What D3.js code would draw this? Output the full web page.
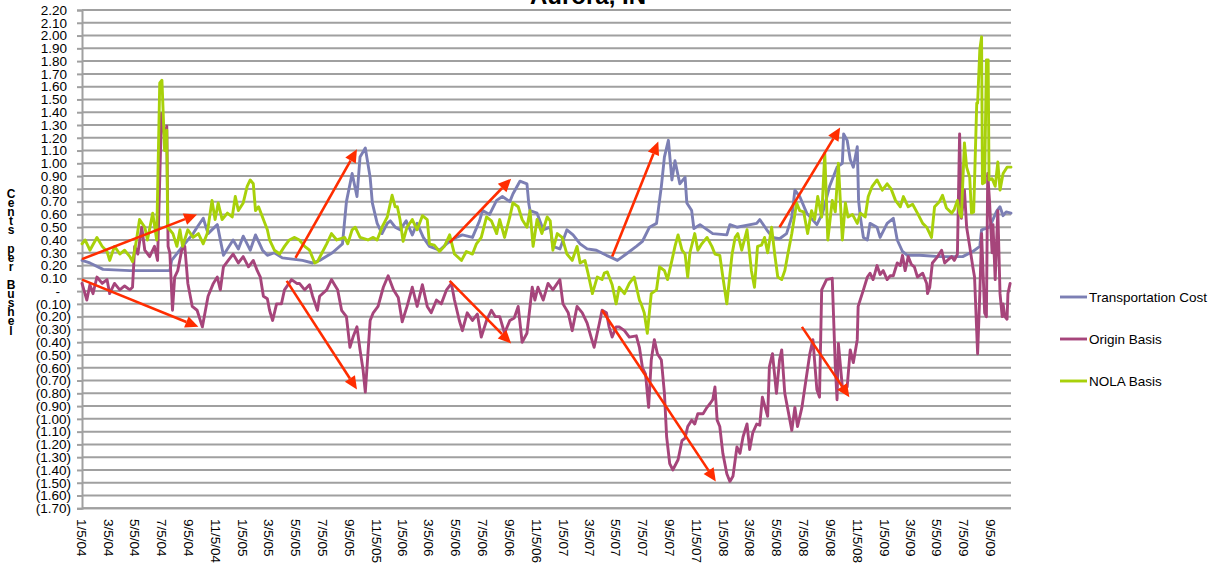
<!DOCTYPE html>
<html><head><meta charset="utf-8">
<script src="https://cdn.jsdelivr.net/npm/d3@7"></script>
<style>
body{margin:0;background:#fff}
svg{display:block}
text{font-family:"Liberation Sans",Arial,sans-serif;fill:#000}
</style>
</head><body>
<svg id="chart" width="1219" height="567"></svg>
<script>
const chartTitle = "Aurora, IN";
const yAxisTitle = "Cents per Bushel";
const seriesNames = ["Transportation Cost", "Origin Basis", "NOLA Basis"];
const seriesColors = ["#7c7fb4", "#a6457b", "#a8d10a"];
const arrowColor = "#ff2d00";

const xTickLabels = ["1/5/04","3/5/04","5/5/04","7/5/04","9/5/04","11/5/04",
  "1/5/05","3/5/05","5/5/05","7/5/05","9/5/05","11/5/05",
  "1/5/06","3/5/06","5/5/06","7/5/06","9/5/06","11/5/06",
  "1/5/07","3/5/07","5/5/07","7/5/07","9/5/07","11/5/07",
  "1/5/08","3/5/08","5/5/08","7/5/08","9/5/08","11/5/08",
  "1/5/09","3/5/09","5/5/09","7/5/09","9/5/09"];
const xDomain = ["2004-01-05", "2009-10-20"];
const yTickValues = [2.2,2.1,2.0,1.9,1.8,1.7,1.6,1.5,1.4,1.3,1.2,1.1,1.0,0.9,0.8,0.7,0.6,0.5,0.4,0.3,0.2,0.1,0,
  -0.1,-0.2,-0.3,-0.4,-0.5,-0.6,-0.7,-0.8,-0.9,-1.0,-1.1,-1.2,-1.3,-1.4,-1.5,-1.6,-1.7];

const transportationCost = [["2004-01-05",0.24],["2004-01-23",0.22],["2004-02-22",0.17],["2004-04-23",0.16],["2004-07-23",0.16],["2004-07-27",0.24],["2004-08-21",0.35],["2004-09-14",0.45],["2004-09-23",0.50],["2004-10-07",0.57],["2004-10-18",0.45],["2004-11-08",0.52],["2004-11-22",0.28],["2004-12-14",0.40],["2004-12-26",0.33],["2005-01-06",0.43],["2005-01-22",0.32],["2005-02-03",0.44],["2005-02-19",0.32],["2005-03-02",0.28],["2005-03-18",0.30],["2005-04-05",0.26],["2005-05-21",0.24],["2005-06-13",0.22],["2005-06-29",0.24],["2005-07-28",0.30],["2005-08-20",0.37],["2005-08-29",0.70],["2005-09-11",0.92],["2005-09-22",0.74],["2005-09-29",1.05],["2005-10-11",1.12],["2005-10-22",0.89],["2005-10-27",0.69],["2005-11-07",0.53],["2005-11-18",0.45],["2005-11-30",0.53],["2005-12-07",0.55],["2005-12-18",0.50],["2005-12-29",0.48],["2006-01-12",0.55],["2006-01-26",0.44],["2006-02-06",0.53],["2006-02-20",0.42],["2006-03-06",0.35],["2006-03-29",0.32],["2006-04-14",0.37],["2006-05-06",0.42],["2006-05-20",0.44],["2006-06-12",0.42],["2006-06-28",0.55],["2006-07-05",0.63],["2006-07-21",0.60],["2006-08-06",0.71],["2006-08-19",0.74],["2006-09-05",0.70],["2006-09-12",0.76],["2006-09-28",0.86],["2006-10-14",0.84],["2006-10-18",0.69],["2006-10-21",0.63],["2006-11-06",0.61],["2006-11-20",0.48],["2006-12-06",0.50],["2006-12-12",0.35],["2006-12-28",0.33],["2007-01-13",0.48],["2007-01-27",0.44],["2007-02-12",0.37],["2007-02-28",0.33],["2007-03-21",0.32],["2007-04-13",0.28],["2007-04-26",0.26],["2007-05-08",0.24],["2007-05-28",0.29],["2007-06-20",0.35],["2007-07-04",0.39],["2007-07-20",0.50],["2007-08-05",0.53],["2007-08-16",0.82],["2007-08-23",1.05],["2007-09-01",1.18],["2007-09-09",0.87],["2007-09-16",1.02],["2007-09-27",0.84],["2007-10-09",0.89],["2007-10-13",0.69],["2007-10-24",0.63],["2007-10-29",0.49],["2007-11-12",0.52],["2007-12-11",0.45],["2008-01-12",0.44],["2008-01-19",0.52],["2008-02-04",0.50],["2008-03-20",0.53],["2008-03-27",0.56],["2008-04-12",0.48],["2008-04-25",0.42],["2008-05-11",0.41],["2008-05-27",0.45],["2008-06-08",0.58],["2008-06-15",0.79],["2008-06-26",0.74],["2008-07-12",0.61],["2008-08-04",0.52],["2008-08-17",0.61],["2008-09-02",0.82],["2008-09-19",0.97],["2008-10-01",1.00],["2008-10-04",1.23],["2008-10-12",1.18],["2008-10-19",1.03],["2008-10-26",0.97],["2008-11-04",1.13],["2008-11-07",0.71],["2008-11-11",0.58],["2008-11-18",0.42],["2008-11-27",0.40],["2008-12-03",0.53],["2008-12-19",0.50],["2008-12-26",0.42],["2009-01-11",0.53],["2009-01-25",0.57],["2009-02-03",0.40],["2009-02-15",0.31],["2009-02-26",0.28],["2009-03-26",0.28],["2009-05-10",0.27],["2009-07-02",0.27],["2009-07-25",0.31],["2009-08-10",0.35],["2009-08-14",0.48],["2009-09-01",0.50],["2009-09-18",0.63],["2009-09-25",0.66],["2009-10-02",0.59],["2009-10-09",0.62],["2009-10-20",0.61]];

const originBasis = [["2004-01-05",0.06],["2004-01-16",-0.07],["2004-01-23",0.05],["2004-01-30",-0.02],["2004-02-08",0.11],["2004-02-20",0.06],["2004-03-02",0.09],["2004-03-08",-0.02],["2004-03-19",0.06],["2004-03-31",0.01],["2004-04-11",0.04],["2004-04-23",0.01],["2004-04-29",0.03],["2004-05-04",0.35],["2004-05-11",0.29],["2004-05-20",0.50],["2004-05-27",0.32],["2004-06-07",0.27],["2004-06-18",0.35],["2004-06-25",0.24],["2004-07-04",1.39],["2004-07-11",1.21],["2004-07-16",1.29],["2004-07-19",0.35],["2004-07-23",0.30],["2004-07-29",-0.15],["2004-08-03",0.11],["2004-08-10",0.16],["2004-08-19",0.32],["2004-08-26",0.35],["2004-09-02",0.06],["2004-09-12",-0.12],["2004-09-23",-0.15],["2004-10-05",-0.28],["2004-10-11",-0.17],["2004-10-18",-0.04],["2004-10-30",0.06],["2004-11-08",0.11],["2004-11-15",0.01],["2004-11-22",0.19],["2004-12-03",0.24],["2004-12-14",0.29],["2004-12-26",0.22],["2005-01-06",0.27],["2005-01-18",0.19],["2005-01-29",0.24],["2005-02-07",0.16],["2005-02-14",0.11],["2005-02-21",-0.04],["2005-03-02",-0.06],["2005-03-07",-0.15],["2005-03-14",-0.23],["2005-03-23",-0.10],["2005-04-03",-0.10],["2005-04-10",0.01],["2005-04-26",0.09],["2005-05-08",0.06],["2005-05-14",0.06],["2005-05-26",0.01],["2005-06-06",0.05],["2005-06-13",-0.04],["2005-06-24",-0.15],["2005-06-29",-0.04],["2005-07-15",0.01],["2005-07-26",0.09],["2005-08-02",0.05],["2005-08-09",0.01],["2005-08-18",-0.15],["2005-08-29",-0.20],["2005-09-06",-0.44],["2005-09-13",-0.36],["2005-09-22",-0.28],["2005-09-29",-0.46],["2005-10-06",-0.62],["2005-10-11",-0.79],["2005-10-15",-0.59],["2005-10-22",-0.23],["2005-10-29",-0.17],["2005-11-09",-0.12],["2005-11-21",0.03],["2005-12-02",0.12],["2005-12-14",0.01],["2005-12-25",-0.05],["2006-01-03",-0.24],["2006-01-14",-0.12],["2006-01-26",0.03],["2006-02-06",-0.12],["2006-02-18",0.05],["2006-03-01",-0.12],["2006-03-10",-0.17],["2006-03-22",-0.07],["2006-04-02",-0.10],["2006-04-14",0.01],["2006-04-25",0.06],["2006-05-02",-0.07],["2006-05-13",-0.23],["2006-05-20",-0.31],["2006-05-31",-0.17],["2006-06-12",-0.23],["2006-06-23",-0.18],["2006-07-02",-0.36],["2006-07-14",-0.23],["2006-07-25",-0.15],["2006-08-03",-0.20],["2006-08-13",-0.20],["2006-08-24",-0.33],["2006-09-05",-0.23],["2006-09-15",-0.21],["2006-09-24",-0.12],["2006-10-03",-0.40],["2006-10-14",-0.33],["2006-10-26",0.03],["2006-11-01",-0.07],["2006-11-08",0.03],["2006-11-20",-0.07],["2006-12-01",0.06],["2006-12-12",0.01],["2006-12-22",0.06],["2006-12-28",0.09],["2007-01-04",-0.10],["2007-01-16",-0.17],["2007-01-25",-0.31],["2007-02-05",-0.12],["2007-02-17",-0.17],["2007-02-28",-0.25],["2007-03-09",-0.36],["2007-03-16",-0.44],["2007-03-28",-0.25],["2007-04-03",-0.15],["2007-04-13",-0.17],["2007-04-19",-0.28],["2007-04-26",-0.36],["2007-05-05",-0.28],["2007-05-12",-0.28],["2007-05-24",-0.31],["2007-06-04",-0.36],["2007-06-20",-0.35],["2007-06-27",-0.44],["2007-07-04",-0.60],["2007-07-11",-0.65],["2007-07-18",-0.91],["2007-07-24",-0.54],["2007-07-31",-0.38],["2007-08-07",-0.49],["2007-08-16",-0.54],["2007-08-23",-0.80],["2007-08-28",-1.14],["2007-09-04",-1.35],["2007-09-11",-1.40],["2007-09-23",-1.32],["2007-10-02",-1.17],["2007-10-09",-1.15],["2007-10-15",-1.06],["2007-10-24",-1.01],["2007-10-31",-1.04],["2007-11-07",-0.96],["2007-11-19",-0.96],["2007-11-28",-0.91],["2007-12-05",-0.88],["2007-12-11",-0.85],["2007-12-16",-0.75],["2007-12-21",-1.01],["2007-12-27",-1.06],["2008-01-03",-1.27],["2008-01-12",-1.43],["2008-01-19",-1.49],["2008-01-26",-1.45],["2008-02-04",-1.22],["2008-02-11",-1.27],["2008-02-18",-1.14],["2008-02-27",-1.04],["2008-03-04",-1.24],["2008-03-11",-1.11],["2008-03-20",-1.04],["2008-03-27",-1.05],["2008-04-02",-0.83],["2008-04-14",-0.98],["2008-04-18",-0.59],["2008-04-25",-0.49],["2008-05-04",-0.80],["2008-05-11",-0.54],["2008-05-16",-0.46],["2008-05-23",-0.80],["2008-06-08",-1.09],["2008-06-15",-0.91],["2008-06-21",-1.06],["2008-07-01",-0.91],["2008-07-07",-0.77],["2008-07-19",-0.49],["2008-07-26",-0.38],["2008-08-04",-0.77],["2008-08-10",-0.83],["2008-08-15",0.01],["2008-08-26",0.09],["2008-09-08",0.10],["2008-09-15",-0.59],["2008-09-19",-0.85],["2008-09-22",-0.41],["2008-10-01",-0.75],["2008-10-12",-0.75],["2008-10-19",-0.46],["2008-10-26",-0.56],["2008-11-04",-0.38],["2008-11-06",-0.12],["2008-11-18",0.01],["2008-11-27",0.11],["2008-12-03",0.14],["2008-12-10",0.09],["2008-12-19",0.20],["2008-12-26",0.13],["2009-01-02",0.16],["2009-01-11",0.09],["2009-01-18",0.12],["2009-01-25",0.12],["2009-02-03",0.22],["2009-02-10",0.20],["2009-02-15",0.28],["2009-02-21",0.16],["2009-02-28",0.27],["2009-03-07",0.21],["2009-03-14",0.19],["2009-03-21",0.11],["2009-04-02",0.14],["2009-04-11",0.06],["2009-04-13",-0.02],["2009-04-18",0.03],["2009-04-24",0.22],["2009-05-06",0.27],["2009-05-15",0.32],["2009-05-22",0.22],["2009-05-28",0.24],["2009-06-07",0.27],["2009-06-13",0.24],["2009-06-20",0.29],["2009-06-25",1.23],["2009-06-29",0.57],["2009-07-06",0.79],["2009-07-11",0.50],["2009-07-18",0.35],["2009-07-25",0.19],["2009-07-29",0.11],["2009-08-05",-0.49],["2009-08-10",-0.02],["2009-08-14",0.45],["2009-08-21",-0.17],["2009-08-25",-0.20],["2009-08-28",0.92],["2009-09-01",0.71],["2009-09-07",0.30],["2009-09-09",0.52],["2009-09-14",0.09],["2009-09-20",0.63],["2009-09-25",-0.02],["2009-09-30",-0.20],["2009-10-02",-0.10],["2009-10-06",-0.20],["2009-10-11",-0.22],["2009-10-13",-0.02],["2009-10-18",0.06]];

const nolaBasis = [["2004-01-05",0.37],["2004-01-12",0.40],["2004-01-23",0.32],["2004-02-08",0.42],["2004-02-20",0.35],["2004-03-02",0.31],["2004-03-08",0.24],["2004-03-19",0.35],["2004-03-31",0.29],["2004-04-11",0.32],["2004-04-23",0.27],["2004-04-29",0.23],["2004-05-08",0.40],["2004-05-15",0.56],["2004-05-27",0.50],["2004-06-02",0.40],["2004-06-14",0.61],["2004-06-23",0.40],["2004-06-30",1.63],["2004-07-05",1.65],["2004-07-07",1.47],["2004-07-11",1.10],["2004-07-16",1.26],["2004-07-18",0.50],["2004-07-30",0.45],["2004-08-08",0.35],["2004-08-15",0.48],["2004-08-21",0.35],["2004-09-02",0.48],["2004-09-14",0.42],["2004-09-26",0.45],["2004-10-07",0.37],["2004-10-16",0.45],["2004-10-27",0.71],["2004-11-03",0.56],["2004-11-10",0.69],["2004-11-19",0.56],["2004-12-01",0.61],["2004-12-12",0.58],["2004-12-19",0.74],["2004-12-26",0.63],["2005-01-06",0.69],["2005-01-15",0.82],["2005-01-22",0.87],["2005-01-29",0.84],["2005-02-03",0.63],["2005-02-10",0.66],["2005-02-21",0.56],["2005-03-02",0.48],["2005-03-07",0.40],["2005-03-18",0.32],["2005-03-30",0.29],["2005-04-10",0.35],["2005-04-21",0.40],["2005-05-03",0.42],["2005-05-14",0.40],["2005-05-26",0.35],["2005-06-06",0.32],["2005-06-18",0.22],["2005-06-24",0.23],["2005-07-03",0.29],["2005-07-15",0.37],["2005-07-26",0.45],["2005-08-07",0.40],["2005-08-25",0.42],["2005-09-01",0.37],["2005-09-11",0.48],["2005-09-18",0.50],["2005-09-29",0.42],["2005-10-17",0.40],["2005-10-29",0.42],["2005-11-07",0.40],["2005-11-18",0.50],["2005-11-30",0.58],["2005-12-11",0.75],["2005-12-18",0.66],["2005-12-23",0.66],["2005-12-29",0.56],["2006-01-05",0.39],["2006-01-14",0.50],["2006-01-26",0.56],["2006-02-06",0.48],["2006-02-18",0.59],["2006-03-01",0.56],["2006-03-06",0.37],["2006-03-17",0.36],["2006-03-29",0.31],["2006-04-09",0.35],["2006-04-21",0.44],["2006-05-02",0.29],["2006-05-18",0.24],["2006-05-29",0.31],["2006-06-12",0.29],["2006-06-21",0.37],["2006-07-02",0.42],["2006-07-14",0.58],["2006-07-25",0.55],["2006-08-06",0.45],["2006-08-13",0.56],["2006-08-24",0.42],["2006-09-05",0.58],["2006-09-12",0.69],["2006-09-24",0.66],["2006-10-03",0.56],["2006-10-14",0.50],["2006-10-21",0.63],["2006-10-28",0.35],["2006-11-06",0.56],["2006-11-17",0.45],["2006-11-29",0.58],["2006-12-06",0.55],["2006-12-12",0.32],["2006-12-22",0.45],["2007-01-02",0.42],["2007-01-13",0.29],["2007-01-25",0.24],["2007-02-05",0.35],["2007-02-12",0.22],["2007-02-23",0.24],["2007-03-02",0.14],["2007-03-12",-0.02],["2007-03-23",0.11],["2007-04-03",0.09],["2007-04-08",0.14],["2007-04-15",0.15],["2007-04-26",0.05],["2007-05-05",-0.10],["2007-05-12",0.03],["2007-05-24",-0.02],["2007-06-04",0.06],["2007-06-15",0.11],["2007-06-27",-0.07],["2007-07-01",-0.10],["2007-07-08",-0.17],["2007-07-15",-0.33],["2007-07-24",-0.02],["2007-08-05",0.01],["2007-08-12",0.19],["2007-08-23",0.16],["2007-08-30",0.09],["2007-09-09",0.24],["2007-09-16",0.35],["2007-09-23",0.44],["2007-10-02",0.32],["2007-10-09",0.29],["2007-10-15",0.11],["2007-10-20",0.30],["2007-10-31",0.45],["2007-11-07",0.32],["2007-11-16",0.37],["2007-11-28",0.42],["2007-12-09",0.35],["2007-12-16",0.29],["2007-12-27",0.28],["2008-01-03",0.11],["2008-01-12",-0.10],["2008-01-24",0.29],["2008-01-31",0.42],["2008-02-06",0.45],["2008-02-15",0.32],["2008-02-27",0.48],["2008-03-08",0.16],["2008-03-15",0.03],["2008-03-22",0.35],["2008-03-31",0.36],["2008-04-07",0.42],["2008-04-14",0.30],["2008-04-23",0.50],["2008-04-30",0.29],["2008-05-07",0.11],["2008-05-16",0.09],["2008-05-23",0.16],["2008-05-30",0.29],["2008-06-08",0.45],["2008-06-19",0.69],["2008-06-26",0.63],["2008-07-05",0.62],["2008-07-14",0.45],["2008-07-23",0.63],["2008-07-30",0.56],["2008-08-06",0.74],["2008-08-15",0.58],["2008-08-22",1.08],["2008-08-29",0.40],["2008-09-08",0.71],["2008-09-15",0.62],["2008-09-22",1.00],["2008-10-01",0.40],["2008-10-08",0.69],["2008-10-14",0.58],["2008-10-24",0.60],["2008-11-04",0.53],["2008-11-11",0.61],["2008-11-22",0.58],["2008-11-29",0.74],["2008-12-08",0.82],["2008-12-19",0.87],["2008-12-31",0.79],["2009-01-11",0.84],["2009-01-20",0.80],["2009-01-30",0.71],["2009-02-10",0.66],["2009-02-17",0.74],["2009-02-28",0.66],["2009-03-10",0.68],["2009-03-21",0.61],["2009-04-02",0.53],["2009-04-11",0.50],["2009-04-18",0.45],["2009-04-22",0.42],["2009-04-29",0.66],["2009-05-10",0.70],["2009-05-17",0.75],["2009-05-26",0.65],["2009-06-07",0.61],["2009-06-13",0.64],["2009-06-20",0.71],["2009-06-25",0.61],["2009-06-29",0.58],["2009-07-06",1.16],["2009-07-11",0.97],["2009-07-18",0.89],["2009-07-22",0.61],["2009-07-27",0.62],["2009-08-03",1.47],["2009-08-05",1.47],["2009-08-10",1.89],["2009-08-14",1.99],["2009-08-16",0.84],["2009-08-21",0.85],["2009-08-25",1.81],["2009-08-29",1.81],["2009-08-31",0.87],["2009-09-07",0.88],["2009-09-14",0.82],["2009-09-20",1.01],["2009-09-25",0.79],["2009-10-02",0.92],["2009-10-11",0.97],["2009-10-20",0.97]];

// trend annotation arrows: [startDate, startValue, endDate, endValue]
const trendArrows = [
  ["2004-01-05",0.25,"2004-09-23",0.60],
  ["2004-01-05",0.09,"2004-09-26",-0.28],
  ["2005-05-05",0.26,"2005-09-22",1.11],
  ["2005-04-15",0.08,"2005-09-22",-0.77],
  ["2006-04-21",0.38,"2006-09-08",0.88],
  ["2006-04-21",0.08,"2006-09-08",-0.41],
  ["2007-04-26",0.27,"2007-08-09",1.17],
  ["2007-04-03",-0.15,"2007-12-18",-1.49],
  ["2008-05-11",0.50,"2008-09-26",1.28],
  ["2008-07-01",-0.28,"2008-10-17",-0.83]
];

const parseISO = d3.timeParse("%Y-%m-%d");
const parseLabel = d3.timeParse("%m/%d/%y");
const svg = d3.select("#chart");

const x = d3.scaleTime().domain(xDomain.map(parseISO)).range([82, 1011]);
const y = d3.scaleLinear().domain([-1.7, 2.2]).range([508.3, 10]);

// gridlines
svg.append("g").selectAll("line").data(yTickValues).join("line")
  .attr("x1", 82).attr("x2", 1011)
  .attr("y1", d => y(d)).attr("y2", d => y(d))
  .attr("stroke", "#a0a0a0").attr("stroke-width", 2);

// y axis
const fmt = v => {
  const a = Math.abs(v);
  if (a < 1e-9) return "-";
  const s = a.toFixed(2);
  return v < 0 ? "(" + s + ")" : s;
};
const yAxis = svg.append("g").attr("transform", "translate(82,0)")
  .call(d3.axisLeft(y).tickValues(yTickValues).tickFormat(fmt).tickSize(5).tickPadding(6));
yAxis.select(".domain").attr("stroke", "#a0a0a0").attr("stroke-width", 2);
yAxis.selectAll(".tick line").attr("stroke", "#a0a0a0").attr("stroke-width", 2);
yAxis.selectAll(".tick text")
  .style("font-family", '"Liberation Sans",Arial,sans-serif')
  .style("font-size", "13.5px").attr("fill", "#000")
  .attr("dx", d => (Math.abs(d) < 1e-9 ? -11 : (d > 0 ? -4 : 0)));

// x axis line
svg.append("line").attr("x1", 82).attr("x2", 1011)
  .attr("y1", y(-1.7)).attr("y2", y(-1.7))
  .attr("stroke", "#a0a0a0").attr("stroke-width", 2);

// x tick labels (rotated)
svg.append("g").selectAll("text").data(xTickLabels).join("text")
  .attr("transform", d => `translate(${x(parseLabel(d))},519) rotate(90)`)
  .attr("dy", "0.35em").attr("text-anchor", "start")
  .style("font-size", "13.5px").text(d => d);

// series
const line = d3.line().x(d => x(parseISO(d[0]))).y(d => y(d[1])).curve(d3.curveLinear);
const allSeries = [transportationCost, originBasis, nolaBasis];
svg.append("g").selectAll("path").data(allSeries).join("path")
  .attr("d", d => line(d)).attr("fill", "none")
  .attr("stroke", (d, i) => seriesColors[i]).attr("stroke-width", 2.9)
  .attr("stroke-linejoin", "round").attr("stroke-linecap", "round");

// arrows
const ag = svg.append("g");
trendArrows.forEach(a => {
  const x1 = x(parseISO(a[0])), y1 = y(a[1]), x2 = x(parseISO(a[2])), y2 = y(a[3]);
  const ang = Math.atan2(y2 - y1, x2 - x1), L = 13, W = 6;
  const bx = x2 - L * Math.cos(ang), by = y2 - L * Math.sin(ang);
  ag.append("line").attr("x1", x1).attr("y1", y1).attr("x2", bx).attr("y2", by)
    .attr("stroke", arrowColor).attr("stroke-width", 2.6);
  const px = -Math.sin(ang) * W, py = Math.cos(ang) * W;
  ag.append("path").attr("d", `M${x2},${y2}L${bx + px},${by + py}L${bx - px},${by - py}Z`)
    .attr("fill", arrowColor);
});

// title (partly above the top edge, as in the reference)
svg.append("text").attr("x", 588).attr("y", 4).attr("text-anchor", "middle")
  .style("font-size", "24px").style("font-weight", "bold").text(chartTitle);

// y axis title: single vertical text with upright stacked letters
svg.append("text").attr("x", 11).attr("y", 187)
  .style("writing-mode", "vertical-rl").style("text-orientation", "upright")
  .style("letter-spacing", "-4.9px")
  .style("font-size", "12px").style("font-weight", "bold").text(yAxisTitle);

// legend
const lg = svg.append("g").selectAll("g").data(seriesNames).join("g")
  .attr("transform", (d, i) => `translate(1060,${297 + i * 42})`);
lg.append("line").attr("x1", 0).attr("x2", 27).attr("y1", 0).attr("y2", 0)
  .attr("stroke", (d, i) => seriesColors[i]).attr("stroke-width", 2.9);
lg.append("text").attr("x", 29).attr("dy", "0.35em").style("font-size", "13.5px").text(d => d);
</script>
</body></html>
